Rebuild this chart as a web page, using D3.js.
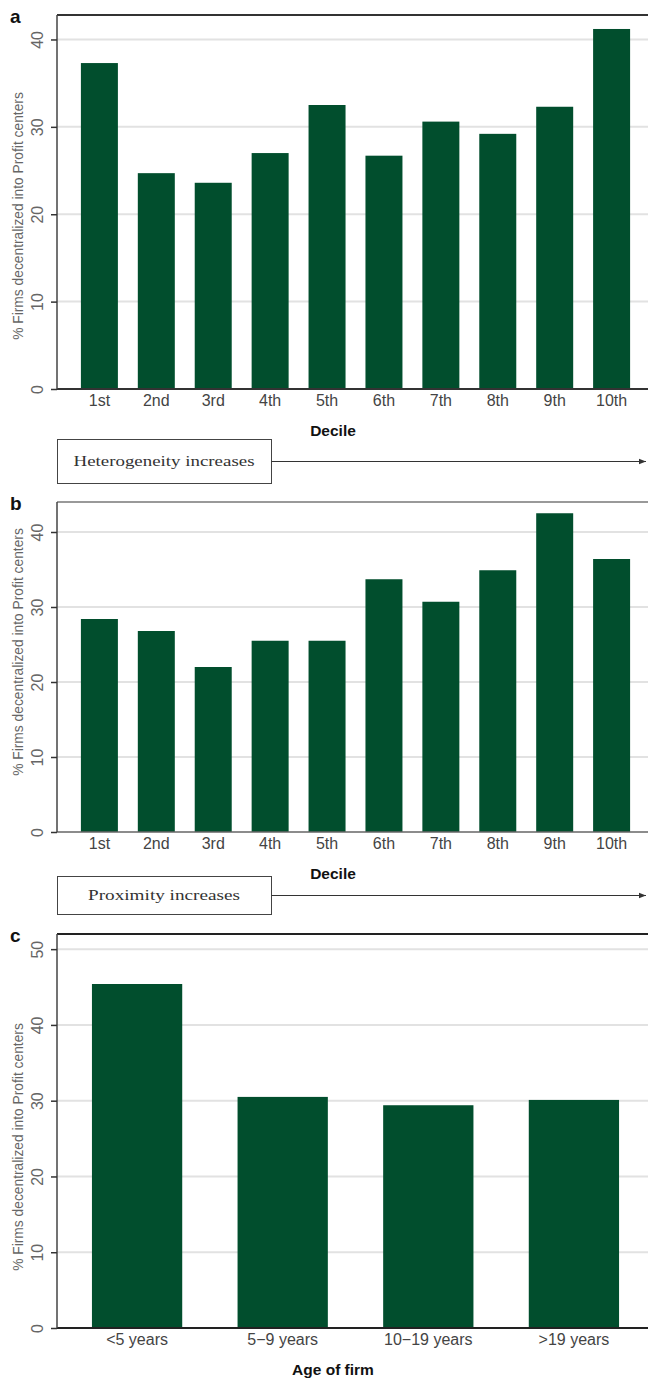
<!DOCTYPE html>
<html>
<head>
<meta charset="utf-8">
<script src="https://cdn.jsdelivr.net/npm/d3@7"></script>
<style>
  body { margin: 0; background: #fff; }
  svg { display: block; }
</style>
</head>
<body>
<div id="chart"></div>
<script>
/* global d3 */

// values (percent of firms)
var deciles = ['1st', '2nd', '3rd', '4th', '5th', '6th', '7th', '8th', '9th', '10th'];
var heterogeneityShares = [37.3, 24.7, 23.6, 27.0, 32.5, 26.7, 30.6, 29.2, 32.3, 41.2];
var proximityShares = [28.4, 26.8, 22.0, 25.5, 25.5, 33.7, 30.7, 34.9, 42.5, 36.4];
var ageGroups = ['<5 years', '5\u22129 years', '10\u221219 years', '>19 years'];
var ageShares = [45.4, 30.5, 29.4, 30.1];
var decileTicks = [0, 10, 20, 30, 40];
var ageTicks = [0, 10, 20, 30, 40, 50];

var WIDTH = 648;
var HEIGHT = 1381;
var LEFT = 57;
var RIGHT = 654; // plot runs a bit past the picture edge
var BAR = '#014e2d';
var SANS = '"Liberation Sans", Arial, Helvetica, sans-serif';
var SERIF = '"Liberation Serif", "Times New Roman", serif';

var svg = d3.select('#chart')
  .append('svg')
  .attr('width', WIDTH)
  .attr('height', HEIGHT);

var panels = [
  { letter: 'a', cats: deciles, vals: heterogeneityShares, ticks: decileTicks, max: 42.8,
    top: 15, bottom: 389, inner: 0.35, outer: 0.42, titleY: 216, xTitle: 'Decile',
    frameTop: { c: '#333', w: 2 }, frameBottom: { c: '#333', w: 2 },
    note: 'Heterogeneity increases', noteY: 439, noteH: 44, noteW: 214, noteLen: 181 },
  { letter: 'b', cats: deciles, vals: proximityShares, ticks: decileTicks, max: 44,
    top: 502, bottom: 832, inner: 0.35, outer: 0.42, titleY: 652, xTitle: 'Decile',
    frameTop: { c: '#777', w: 1.3 }, frameBottom: { c: '#666', w: 1.5 },
    note: 'Proximity increases', noteY: 876, noteH: 38, noteW: 214, noteLen: 152 },
  { letter: 'c', cats: ageGroups, vals: ageShares, ticks: ageTicks, max: 52,
    top: 934, bottom: 1328, inner: 0.38, outer: 0.24, titleY: 1147, xTitle: 'Age of firm',
    frameTop: { c: '#222', w: 2 }, frameBottom: { c: '#222', w: 2 } }
];

svg.append('defs').append('marker')
  .attr('id', 'arrow')
  .attr('viewBox', '0 0 10 10')
  .attr('refX', 10)
  .attr('refY', 5)
  .attr('markerWidth', 7)
  .attr('markerHeight', 7)
  .attr('markerUnits', 'userSpaceOnUse')
  .attr('orient', 'auto')
  .append('path')
  .attr('d', 'M0,1 L10,5 L0,9 Z')
  .attr('fill', '#333');

panels.forEach(function(p) {
  var g = svg.append('g');

  var x = d3.scaleBand()
    .domain(p.cats)
    .range([LEFT, RIGHT])
    .paddingInner(p.inner)
    .paddingOuter(p.outer);

  var y = d3.scaleLinear()
    .domain([0, p.max])
    .range([p.bottom, p.top]);

  // grid lines
  g.selectAll('.grid')
    .data(p.ticks.filter(function(t) { return t > 0; }))
    .enter().append('line')
    .attr('x1', LEFT)
    .attr('x2', WIDTH)
    .attr('y1', function(d) { return y(d); })
    .attr('y2', function(d) { return y(d); })
    .attr('stroke', '#e2e2e2')
    .attr('stroke-width', 2);

  // bars
  g.selectAll('.bar')
    .data(p.vals)
    .enter().append('rect')
    .attr('x', function(d, i) { return x(p.cats[i]); })
    .attr('width', x.bandwidth())
    .attr('y', function(d) { return y(d); })
    .attr('height', function(d) { return y(0) - y(d); })
    .attr('fill', BAR);

  // frame: top, bottom
  g.append('line')
    .attr('x1', LEFT).attr('x2', WIDTH)
    .attr('y1', p.top).attr('y2', p.top)
    .attr('stroke', p.frameTop.c).attr('stroke-width', p.frameTop.w);
  g.append('line')
    .attr('x1', LEFT).attr('x2', WIDTH)
    .attr('y1', p.bottom).attr('y2', p.bottom)
    .attr('stroke', p.frameBottom.c).attr('stroke-width', p.frameBottom.w);

  // y axis with vertical labels
  var yAxis = g.append('g')
    .attr('transform', 'translate(' + LEFT + ',0)')
    .call(d3.axisLeft(y).tickValues(p.ticks).tickSize(6).tickSizeOuter(0));
  yAxis.select('.domain')
    .attr('d', 'M0,' + p.top + 'V' + p.bottom)
    .attr('stroke', '#444')
    .attr('stroke-width', 1.5);
  yAxis.selectAll('.tick line')
    .attr('stroke', '#333')
    .attr('stroke-width', 1.5);
  yAxis.selectAll('.tick text')
    .attr('transform', 'rotate(-90)')
    .attr('x', 0)
    .attr('y', -14)
    .attr('dy', 0)
    .attr('text-anchor', 'middle')
    .attr('fill', '#666')
    .style('font-family', SANS)
    .style('font-size', '16px');

  // x axis labels
  var xAxis = g.append('g')
    .attr('transform', 'translate(0,' + p.bottom + ')')
    .call(d3.axisBottom(x).tickSize(0).tickPadding(6));
  xAxis.select('.domain').remove();
  xAxis.selectAll('.tick text')
    .attr('fill', '#444')
    .style('font-family', SANS)
    .style('font-size', '16px');

  // titles
  g.append('text')
    .attr('transform', 'translate(23,' + p.titleY + ') rotate(-90)')
    .attr('text-anchor', 'middle')
    .attr('fill', '#666')
    .style('font-family', SANS)
    .style('font-size', '13.8px')
    .text('% Firms decentralized into Profit centers');

  g.append('text')
    .attr('x', 333)
    .attr('y', p.bottom + 47)
    .attr('text-anchor', 'middle')
    .attr('fill', '#111')
    .style('font-family', SANS)
    .style('font-size', '15.5px')
    .style('font-weight', 'bold')
    .text(p.xTitle);

  g.append('text')
    .attr('x', 10)
    .attr('y', p.top + 8)
    .attr('fill', '#111')
    .style('font-family', SANS)
    .style('font-size', '19px')
    .style('font-weight', 'bold')
    .text(p.letter);

  // direction note with arrow
  if (p.note) {
    g.append('rect')
      .attr('x', LEFT + 0.5)
      .attr('y', p.noteY + 0.5)
      .attr('width', p.noteW)
      .attr('height', p.noteH)
      .attr('fill', 'none')
      .attr('stroke', '#444')
      .attr('stroke-width', 1);
    g.append('text')
      .attr('x', LEFT + p.noteW / 2)
      .attr('y', p.noteY + p.noteH / 2 + 5)
      .attr('text-anchor', 'middle')
      .attr('textLength', p.noteLen)
      .attr('lengthAdjust', 'spacingAndGlyphs')
      .attr('fill', '#333')
      .style('font-family', SERIF)
      .style('font-size', '15px')
      .text(p.note);
    g.append('line')
      .attr('x1', LEFT + p.noteW + 0.5)
      .attr('x2', 646)
      .attr('y1', p.noteY + p.noteH / 2 + 0.5)
      .attr('y2', p.noteY + p.noteH / 2 + 0.5)
      .attr('stroke', '#333')
      .attr('stroke-width', 1)
      .attr('marker-end', 'url(#arrow)');
  }
});
</script>
</body>
</html>
